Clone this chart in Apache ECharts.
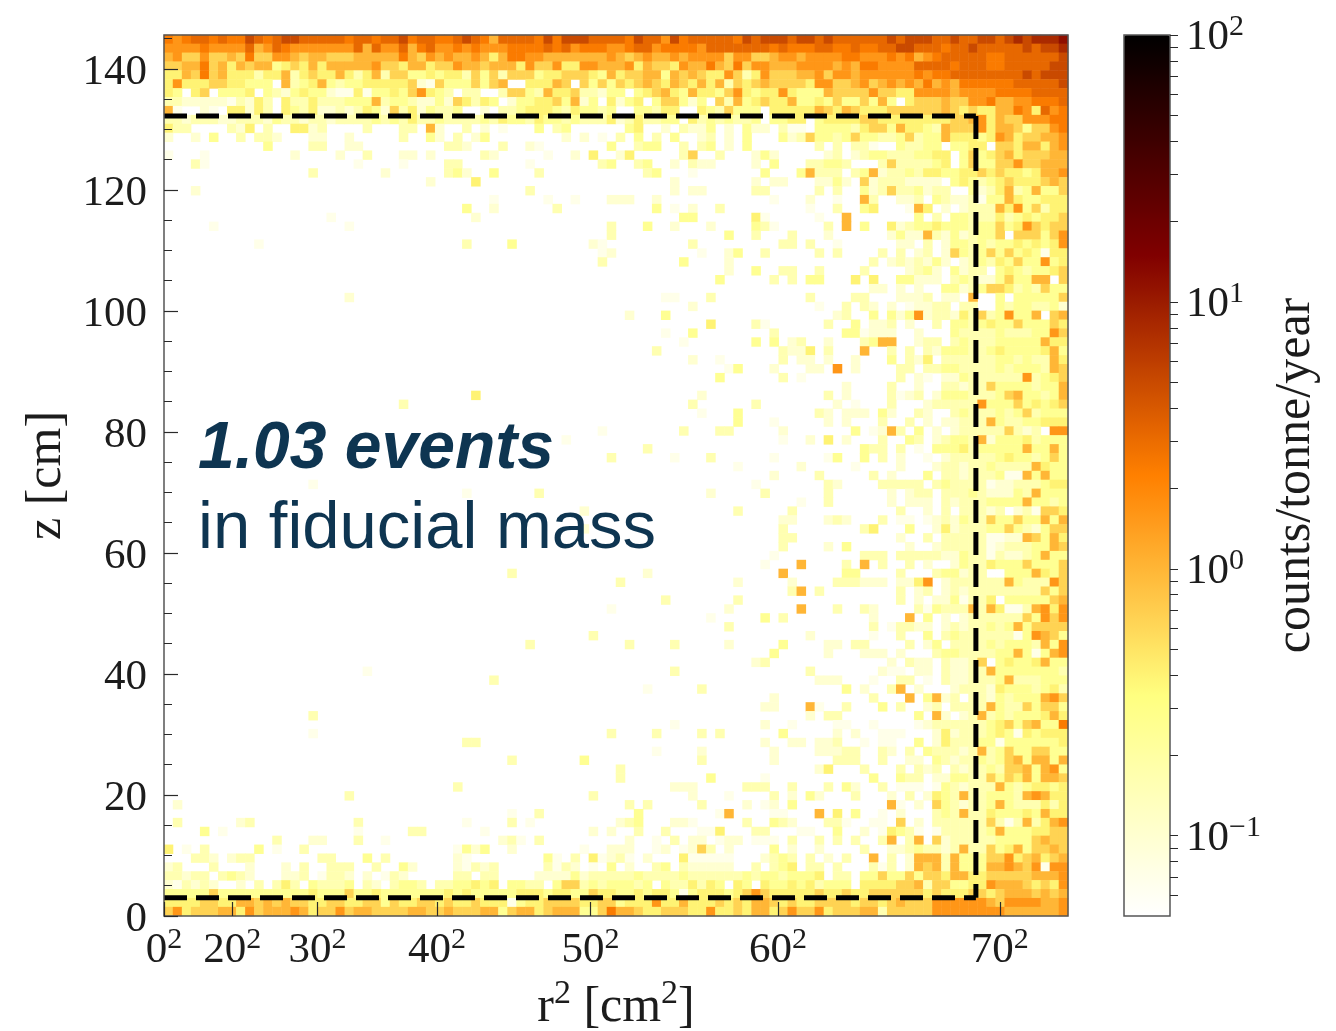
<!DOCTYPE html>
<html>
<head>
<meta charset="utf-8">
<title>z vs r2 event map</title>
<script src="https://cdn.jsdelivr.net/npm/echarts@6/dist/echarts.min.js"></script>
<style>
  html, body { margin: 0; padding: 0; background: #fff; }
  #main { width: 1336px; height: 1031px; }
</style>
</head>
<body>
<div id="main"></div>
<script>
// tick values
var xTicks = [0, 400, 900, 1600, 2500, 3600, 4900]
var xTickRoots = { 0: '0', 400: '20', 900: '30', 1600: '40', 2500: '50', 3600: '60', 4900: '70' }
var yMajor = [0, 20, 40, 60, 80, 100, 120, 140]
var yMinor = [5, 10, 15, 25, 30, 35, 45, 50, 55, 65, 70, 75, 85, 90, 95, 105, 110, 115, 125, 130, 135, 145]
var cbMajor = [0.1, 1, 10, 100]
var cbMinor = [0.06, 0.07, 0.08, 0.09, 0.1, 0.2, 0.3, 0.4, 0.5, 0.6, 0.7, 0.8, 0.9, 1, 2, 3, 4, 5, 6, 7, 8, 9, 10, 20, 30, 40, 50, 60, 70, 80, 90, 100]

// fiducial volume outline
var fiducialTop = [[0, 132.2], [4760, 132.2]]
var fiducialRight = [[4760, 132.2], [4760, 3]]
var fiducialBottom = [[0, 3], [4760, 3]]

// counts/tonne/year for each letter used in the rows below, '.' is an empty bin
var levels = { 1: 0.07, 2: 0.1, 3: 0.16, 4: 0.25, 5: 0.4, 6: 0.65, 7: 1, 8: 1.6, 9: 2.4, a: 3.2, b: 5, c: 8, d: 12 }

// bins, top row first, 10 columns per group, '-' is an empty group
var rows = [
  '989aa9a99b a9abbaaaaa 9aa9aab9aa 99aba97aaa a9b9bbbaaa a9baa8b9aa aaa9babbba bbabaaaaaa babbbaabaa bbabcbcccd',
  '888898888a 78a9888888 8a7a88a79a 8898988899 99a9a89998 89aa899998 aaaaaaa9a9 99aa99a99a abbaaa9aab aaaaababbc',
  '7866866769 6688767766 6777779768 7877875799 8877777778 7678778788 8868866788 7888899888 989789aaaa a99aaaaaab',
  '6677967576 7745657577 7778665775 6687767775 8668558877 7857665877 9769688777 8888787998 888aaaa9aa a99aaaaabb',
  '5576967555 3557356557 5357366445 4553646366 6455666547 5667747676 5586358666 7786887888 8889899aaa aaaaababbb',
  '5855566554 44.7345743 4455555621 64446467.. 55576.6464 6567657657 5736567666 6588667867 8787978799 9999aaaaab',
  '54.56.4445 .432454421 1514454685 43.33..366 4375563324 4.45675475 5468545585 4447666686 6558888788 889999aaaa',
  '3322222132 53.5335333 4447344322 4265354.24 45564724.5 245.466424 .637456557 4454644647 4.56667668 897788999a',
  '71..21.552 53.5435223 2354263524 334..2.334 5554354434 ..44355..5 436444.555 5576576555 6666667656 5577985a89',
  '3323332233 3243323323 3334343533 4333343544 3544343335 2353344.53 434334.445 5.45555665 5555555667 8576688899',
  '533....325 .3..5523.. ..3...33.7 2..3.2.1.. .4.34..... .45..2.322 4.2.422.31 1.44443566 4755437666 8577646689',
  '2..2.4..3. 332...22.. 2.....3..4 2.3.24.... ....2.2.1. 3.4.3.4..2 3.2.4...42 3644346443 3463447555 4587566778',
  '- .4....33.. 22........ .332...3.. 21.......4 ..344..3.3 4.2.4..... ..3.3.331. .43344.445 5.66577578',
  '1...1..... ....2....2 ..3...22.2 .....32... ..1..2.5.. 25.....36. .3...242.. ...23.2344 3334455.46 4567566677',
  '...31..... - .1....1... .33....... 1.......34 ..34..2.32 2....2.4.. .33443...3 6333345.46 4466866777',
  '- ......3... ....2..... .342..4... .3........ ...34...1. ......4... 47333.3472 3343554455 6565545778',
  '- - .........2 ....5..... - ......2... .....2.22. ..2242.623 332222.454 3456555676',
  '...2...... - - - 3......... ......2.22 .....33... ..3.3..423 6334233..4 2357347446',
  '- - - ......1... ..1..1...2 22..2..... .......1.. .2..1..73. .223.43223 1447544555',
  '- - - ...4..2... ...3...... ....4.1.2. .3........ .1..3..45. ..175.2.23 3375846355',
  '- ........1. - ....2..... - .......44. .....51... ..1..7.... ...4.3.443 3353454556',
  '.....1.... - 1......... - .........3 ...4..2... 2....431.. ...3.7.4.. 5234454443 4464586566',
  '- - - - .........3 - ..4..3...3 ...2...... 2422732423 446.666468',
  '- 1......... - ...3....4. .......21. ........3. ........33 .3..1..... .22.3.2443 4344545458',
  '- - - - ........12 .........1 ..24..3... ..3.3....3 .3.23.2643 4646454155',
  '- - - - ........3. .......4.. ..2....... ........3. 2323242.23 4354644845',
  '- - - - - - ..2..4..33 ..3....3.. ..2342.423 3.45434456',
  '- - - - - - .4.....3.3 .44...5.5. .44222.343 22464477.6',
  '- - - - - - - ........22 .2.2..4423 4665343644',
  '- - 2......... - - .....11... 3......... .3....33.. .2223.22.7 ..4.444446',
  '- - - - - ........2. - ..1..3.32. 2.12233.33 ..43443342',
  '- - - - - .2...4.... - ....23..4. 4248233253 6348447.67',
  '- - - - - - 5....31... ...3..4.22 3.2..3.443 4544644465',
  '- - - - - .....1..4. .......3.. .....44122 2..2...433 3343334486',
  '- - - - - .......1.. .....4.4.2 3..2...347 7..233.343 3344444755',
  '- - - - - ....3..... ........32 25.3...7.. 3.3.324443 3454444574',
  '- - - - - ........2. .1......3. 22.2..2... 4.325.3333 3344343375',
  '- - - - - - ..14...2.. .22.8.2... .33.334433 3343444376',
  '- - - - - - .4......3. 1......... .3.21.2243 3333383456',
  '- - - - - - - .....2.... 3..2..3323 3644443447',
  '- - - ....5..... - .........2 - ...3.2.... 3123.24443 3346744347',
  '- - ......3... - - ........3. .....3.... ....2.1... 3...233333 8444645456',
  '- - - - - .........1 ...4...... ..32.222.4 2..32..343 3343463444',
  '- - - - - - ...4...1.. ...2.2...3 ..3.2.2233 3743344555',
  '- - - - ........1. .......3.. .33.....2. ......4.12 73.4.2.233 3336323.88',
  '- - - - ....1..... - ........1. .2.5.2...3 ..43.23443 7244453444',
  '- - - - - ...3...... - .......433 .3.1.44453 4444474474',
  '- - - - .........3 ......1... 3......1.. ...14..4.3 .2..1.2333 3345443464',
  '- - - - - - ...1...... 2.....1... .2...23323 3433337544',
  '- - - - - - .......2.. ..3.....3. 2...4.3323 3341174744',
  '- ......1... - - - - .....1.... ...32....3 3333.34333 3122333455',
  '- - - ...1...... .3........ - 2.....3... ...3...... 2.233.3334 3222437444',
  '- - - - - - - 1..3...... 2.222.3233 3444474434',
  '- - - - ......2... - ...3.....3 - .3..2.3.33 323.231665',
  '- - - - - - ........22 ...232...3 .11.123243 3644644747',
  '- - - - ......2... - ........3. .......35. ..4..25233 3446432466',
  '- - - - - - ........33 - .2..3.3333 3112276475',
  '- - - - - - ........3. ...2.4.... ..2..23333 3123334476',
  '- - - - - - .......1.. .......333 .333332243 3132234744',
  '- - - - - - ......1... 7....3.7.3 ..3.2..243 3544464446',
  '- - - ........3. - ...2...... ........7. .....44... .3...34423 3..4447546',
  '- - - - - 3......... ...2.....2 ....333222 .2258.2333 3337433386',
  '- - - - - - .........3 7.3....... .3.23.2323 3333333646',
  '- - - - - .....3.... ...3...... - .3.2.22413 35.4444467',
  '- - - - .........1 - ..2....... 7...3..32. ...3143337 3751137858',
  '- - - - - - 1.....4.3. ........2. ..7.4.2.23 3333364868',
  '- - - - - - ..3....... ........3. 13322.2323 3434746666',
  '- - - - .......3.. - - .2......1. .3..4.3433 3333148764',
  '- - - - 3......... .3....3... ..2.....4. ...22.33.. ..3.24.333 3434443748',
  '- - - - - - .......4.. ...2...222 .2...34433 3344741478',
  '- - - - - - .....23... - 2.322.3223 6.45445744',
  '- - ..1....... - - ......3... - .3.......2 11.22.3223 3744444443',
  '- - - ......3... - - - ..222...1. .33.1.3223 3347333444',
  '- - - - - ...1.....3 - .....4.2.. 37.2...233 3254443453',
  '- - - - - - .......2.. ........3. ..7.4723.3 3243444786',
  '- - - - - - ......22.. .71..3...4 .3..23.333 3743364664',
  '- ......3... - - - - - .2.33..... ...4.72.23 7343444575',
  '- - - - - ......1... ......2..1 ....11..1. ...1233333 3456467449',
  '- ......1... - - .........3 ....3....3 .3......4. ....2.2..1 11...25233 3454154555',
  '- - - ...33..... - - ......2..2 2.223..1.1 1..4.25333 4414444445',
  '- - - - - ....1....2 .......2.. ..22233..3 2.3.433323 7346446644',
  '- - - ........3. ......4... .........3 .......2.. ....333..3 ..22.43233 4346747747',
  '- - - - - 3......... - ..25...3.. .3.323.323 3436674784',
  '- - - - - 3......... 4.....1... ........4. .433.22443 3646574776',
  '- - - ..3....... - ......222. ....333..3 ...3.42..3 .111.14323 3374345545',
  '- - 3......... - .......3.. ........2. ..1....3.2 .42...3... 2.3.254373 3444378755',
  '.2........ - - - - .3.3.....3 ....2.12.4 - 71.2.64323 3474333535',
  '- - - ........1. .3........ ..4....... .17....11. ..7.5.4..1 .2...34373 3544454755',
  '.3......23 - .3........ ...1....3. 1......... 234...221. ....3..432 ...331..11 .6.2.33333 3631373578',
  '....4.1... - .1.....33. .....1.... .......2.2 ..3..3...1 15...33... 11..4..2.1 5431.13333 3474445566',
  '- ..3...22.. .3..1..... .......231 .3........ .2..1.3.22 .122.111.3 ..3.3.3..3 7.37.62333 3344446766',
  '5.1.3..... 4.1..3.... - ..1424..2. ......1..2 22..12.126 3.2....4.2 ..2....3.. 2234332373 3645746676',
  '...332.233 .......33. ..4.3..... ..21...... ..41.3.512 31.2...511 111...2343 .3.2.3..7. 3.27773744 4668567567',
  '23...3...2 ...2.3..33 3..3..42.. ..21323... ..3132.1.4 .2..34.322 222..3.345 .33.3...31 3.27673744 4778768188',
  '33233.3432 ...223.133 2.2.132... ..33.33... .222242333 3343333433 3333434434 445.33.446 4464665775 5666667778',
  '213232..2. 3.353.4333 4.32.3443. 3344545.44 33.4663434 4434.43353 54.54.5445 453444.555 5667366445 5877765658',
  '4444464444 4444445444 6445444444 4545444445 5545544655 4454554145 5545686555 5565565566 6666565556 6567776767',
  '5555665577 6767665566 5566465566 5655655514 5566665566 4555855755 5656577656 5566665665 6766688888 8768888778',
  '6856667758 6777875668 6776666776 6766677467 7567774469 7765566655 8556577568 6685666773 6666688888 8887777778'
]

var colLabels = []
for (var b = 0; b < 100; b++) colLabels.push(b)
var rowLabels = rows.map(function (row, i) { return i })

var cells = []
rows.forEach(function (row, r) {
  var line = row.split(' ').map(function (g) { return g === '-' ? '..........' : g }).join('')
  for (var c = 0; c < line.length && c < 100; c++) {
    if (line[c] !== '.') cells.push([c, r, Math.log10(levels[line[c]])])
  }
})

var serif = '"Liberation Serif", "DejaVu Serif", serif'
var tickColor = '#2a2a2a'
var sup = { fontFamily: serif, fontSize: 30, color: '#1c1c1c', verticalAlign: 'top', lineHeight: 52 }
var big = { fontFamily: serif, fontSize: 43, color: '#1c1c1c', lineHeight: 52 }
var titleSup = { fontFamily: serif, fontSize: 34, color: '#1c1c1c', verticalAlign: 'top', lineHeight: 60 }
var titleBig = { fontFamily: serif, fontSize: 50, color: '#1c1c1c', lineHeight: 60 }

var chart = echarts.init(document.getElementById('main'))

function fiducial(data) {
  return {
    type: 'line',
    xAxisIndex: 1,
    yAxisIndex: 1,
    data: data,
    z: 6,
    showSymbol: false,
    silent: true,
    animation: false,
    lineStyle: { color: '#000', width: 5, type: [23, 9], cap: 'butt' }
  }
}

chart.setOption({
  animation: false,
  backgroundColor: '#fff',
  grid: [
    { left: 164, top: 35, width: 904, height: 881, outerBoundsMode: 'none', show: true, z: 8, backgroundColor: 'transparent', borderColor: '#555', borderWidth: 1.5 },
    { left: 1124, top: 35, width: 46, height: 881, outerBoundsMode: 'none', show: true, z: 8, backgroundColor: 'transparent', borderColor: '#555', borderWidth: 1.5 }
  ],
  xAxis: [
    { type: 'category', gridIndex: 0, data: colLabels, show: false },
    {
      type: 'value', gridIndex: 0, min: 0, max: 5300, position: 'bottom', z: 9,
      splitLine: { show: false },
      axisLine: { show: false, onZero: false },
      axisTick: { show: true, inside: true, length: 14, customValues: xTicks, lineStyle: { color: tickColor, width: 1.2 } },
      axisLabel: {
        customValues: xTicks,
        margin: 9,
        formatter: function (v) { return '{b|' + xTickRoots[v] + '}{s|2}' },
        rich: { b: big, s: sup }
      },
      name: '{b|r}{s|2}{b| [cm}{s|2}{b|]}',
      nameLocation: 'middle',
      nameGap: 61,
      nameTextStyle: { rich: { b: titleBig, s: titleSup } }
    },
    { type: 'value', gridIndex: 1, min: 0, max: 1, show: false }
  ],
  yAxis: [
    { type: 'category', gridIndex: 0, data: rowLabels, inverse: true, show: false },
    {
      type: 'value', gridIndex: 0, min: 0, max: 145.6, position: 'left', z: 9,
      splitLine: { show: false },
      axisLine: { show: false, onZero: false },
      axisTick: { show: true, inside: true, length: 14, customValues: yMajor, lineStyle: { color: tickColor, width: 1.2 } },
      axisLabel: { customValues: yMajor, margin: 17, fontFamily: serif, fontSize: 43, color: '#1c1c1c', verticalAlign: 'top', lineHeight: 8 },
      name: 'z [cm]',
      nameLocation: 'middle',
      nameRotate: 90,
      nameGap: 85,
      nameTextStyle: { fontFamily: serif, fontSize: 50, color: '#1c1c1c' }
    },
    {
      type: 'value', gridIndex: 0, min: 0, max: 145.6, position: 'left', z: 9,
      splitLine: { show: false },
      axisLine: { show: false, onZero: false },
      axisLabel: { show: false },
      axisTick: { show: true, inside: true, length: 8, customValues: yMinor, lineStyle: { color: tickColor, width: 1 } }
    },
    {
      type: 'value', gridIndex: 1, min: -1.301, max: 2, position: 'right', z: 9,
      splitLine: { show: false },
      axisLine: { show: false, onZero: false },
      axisTick: { show: true, length: 8, customValues: cbMinor.map(Math.log10), lineStyle: { color: tickColor, width: 1 } },
      axisLabel: {
        customValues: cbMajor.map(Math.log10),
        margin: 16,
        padding: [6, 0, 0, 0],
        formatter: function (v) {
          return '{b|10}{s|' + String(Math.round(v)).replace('-', '\u2212') + '}'
        },
        rich: { b: big, s: sup }
      },
      name: 'counts/tonne/year',
      nameLocation: 'middle',
      nameRotate: 90,
      nameGap: 101,
      nameTextStyle: { fontFamily: serif, fontSize: 50, color: '#1c1c1c' }
    }
  ],
  visualMap: {
    type: 'continuous',
    seriesIndex: 0,
    dimension: 2,
    min: -1.301,
    max: 2,
    left: 1124,
    top: 35,
    padding: 0,
    itemWidth: 46,
    itemHeight: 881,
    calculable: false,
    hoverLink: false,
    showLabel: false,
    text: null,
    inRange: { color: ['#ffffff', '#ffff80', '#ff8000', '#800000', '#000000'] }
  },
  graphic: [
    { type: 'text', z: 20, x: 198, y: 450, style: { text: '1.03 events', font: 'italic bold 66px "Liberation Sans", Arial, sans-serif', fill: '#0e3551', verticalAlign: 'middle' } },
    { type: 'text', z: 20, x: 198, y: 530, style: { text: 'in fiducial mass', font: '67px "Liberation Sans", Arial, sans-serif', fill: '#0e3551', verticalAlign: 'middle' } }
  ],
  series: [
    {
      type: 'heatmap',
      xAxisIndex: 0,
      yAxisIndex: 0,
      data: cells,
      progressive: 0,
      silent: true,
      emphasis: { disabled: true }
    },
    fiducial(fiducialTop),
    fiducial(fiducialRight),
    fiducial(fiducialBottom)
  ]
})
</script>
</body>
</html>
